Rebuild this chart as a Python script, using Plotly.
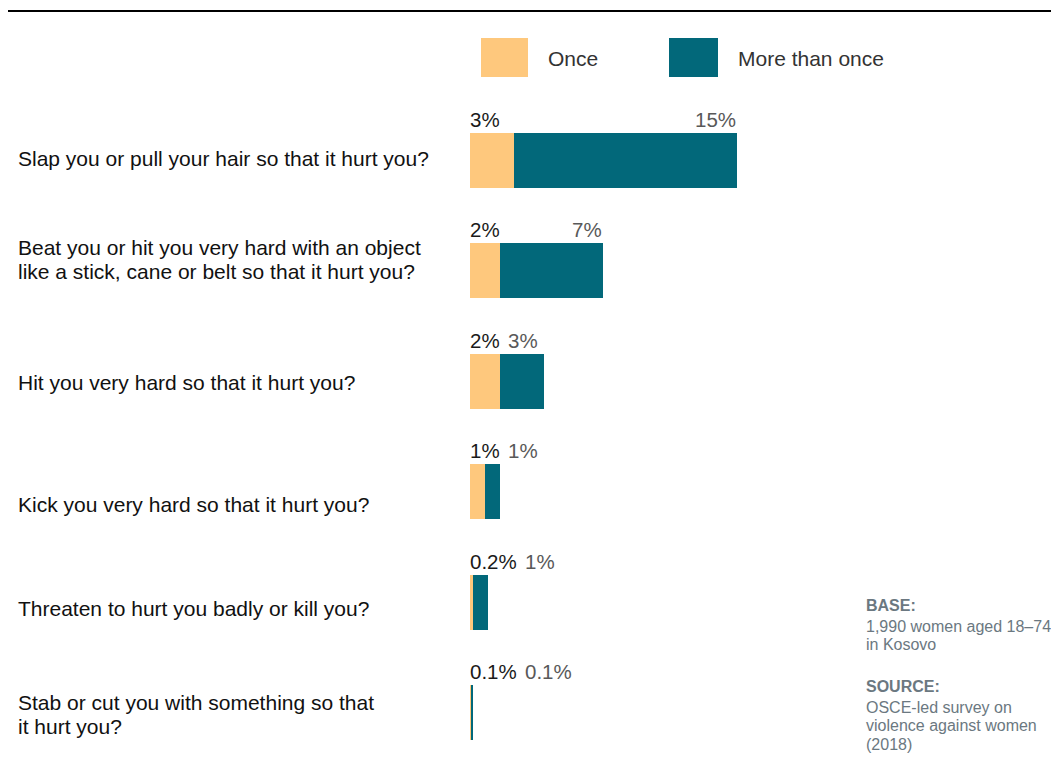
import plotly.graph_objects as go

categories = [
    "Slap you or pull your hair so that it hurt you?",
    "Beat you or hit you very hard with an object<br>like a stick, cane or belt so that it hurt you?",
    "Hit you very hard so that it hurt you?",
    "Kick you very hard so that it hurt you?",
    "Threaten to hurt you badly or kill you?",
    "Stab or cut you with something so that<br>it hurt you?",
]
once = [3, 2, 2, 1, 0.2, 0.1]
more_than_once = [15, 7, 3, 1, 1, 0.1]
series_names = ["Once", "More than once"]
base_title = "BASE:"
base_lines = ["1,990 women aged 18–74", "in Kosovo"]
source_title = "SOURCE:"
source_lines = ["OSCE-led survey on", "violence against women", "(2018)"]

C_ONCE = "#FEC87D"
C_MORE = "#02687A"
W, H = 1051, 780
ML, MR, MT, MB = 0, 0, 105, 12
PLOT_H = H - MT - MB


def px_x(px):
    return px / W


def px_y(py):
    return (H - MB - py) / PLOT_H


X0_PX, X1_PX = 470, 850
PX_PER_UNIT = 14.83
XMAX = (X1_PX - X0_PX) / PX_PER_UNIT

FONT = "Liberation Sans, Arial, sans-serif"
LBL_SIZE = 20.5
CAT_SIZE = 21
LINE_GAP = 24  # px between lines of a category label


def text_w(s, size=LBL_SIZE):
    w = 0
    for ch in s:
        if ch.isdigit():
            w += 0.556
        elif ch == "%":
            w += 0.889
        elif ch == ".":
            w += 0.278
        else:
            w += 0.5
    return w * size


def fmt(v):
    return f"{v:g}%"


ypos = list(range(len(categories)))

fig = go.Figure()
fig.add_trace(go.Bar(y=ypos, x=once, orientation="h", name=series_names[0],
                     marker=dict(color=C_ONCE, line=dict(width=0)), width=0.5,
                     showlegend=False, hoverinfo="x"))
fig.add_trace(go.Bar(y=ypos, x=more_than_once, orientation="h", name=series_names[1],
                     marker=dict(color=C_MORE, line=dict(width=0)), width=0.5,
                     showlegend=False, hoverinfo="x"))

annotations = []
label_offset = [-2, -11, 1, 13, 6, 2]  # px, downwards
for i, cat in enumerate(categories):
    lines = cat.split("<br>")
    n = len(lines)
    for k, line in enumerate(lines):
        dy = label_offset[i] + (k - (n - 1) / 2) * LINE_GAP
        annotations.append(dict(x=px_x(16), xref="paper", y=i, yref="y", text=line,
                                xanchor="left", yanchor="middle", align="left",
                                showarrow=False, yshift=-dy,
                                font=dict(family=FONT, size=CAT_SIZE, color="#111111")))
    o_txt = fmt(once[i])
    m_txt = fmt(more_than_once[i])
    annotations.append(dict(x=0, xref="x", y=i - 0.25, yref="y", text=o_txt,
                            xanchor="left", yanchor="bottom", showarrow=False,
                            xshift=-2, yshift=0,
                            font=dict(family=FONT, size=LBL_SIZE, color="#1a1a1a")))
    total = once[i] + more_than_once[i]
    total_px = total * PX_PER_UNIT
    needed = text_w(o_txt) + 20 + text_w(m_txt)
    if total_px >= needed:
        annotations.append(dict(x=total, xref="x", y=i - 0.25, yref="y", text=m_txt,
                                xanchor="right", yanchor="bottom", showarrow=False,
                                xshift=1, yshift=0,
                                font=dict(family=FONT, size=LBL_SIZE, color="#595959")))
    else:
        annotations.append(dict(x=0, xref="x", y=i - 0.25, yref="y", text=m_txt,
                                xanchor="left", yanchor="bottom", showarrow=False,
                                xshift=text_w(o_txt) + 6, yshift=0,
                                font=dict(family=FONT, size=LBL_SIZE, color="#595959")))

# top rule and legend
shapes = [
    dict(type="line", xref="paper", yref="paper", x0=px_x(8), x1=px_x(1051),
         y0=px_y(11), y1=px_y(11), line=dict(color="#000000", width=2)),
    dict(type="rect", xref="paper", yref="paper", x0=px_x(481), x1=px_x(528),
         y0=px_y(77), y1=px_y(38), fillcolor=C_ONCE, line=dict(width=0)),
    dict(type="rect", xref="paper", yref="paper", x0=px_x(669), x1=px_x(718),
         y0=px_y(77), y1=px_y(38), fillcolor=C_MORE, line=dict(width=0)),
]
annotations.append(dict(x=px_x(546), xref="paper", y=px_y(58), yref="paper",
                        text=series_names[0], xanchor="left", yanchor="middle",
                        showarrow=False, font=dict(family=FONT, size=21, color="#333333")))
annotations.append(dict(x=px_x(736), xref="paper", y=px_y(58), yref="paper",
                        text=series_names[1], xanchor="left", yanchor="middle",
                        showarrow=False, font=dict(family=FONT, size=21, color="#333333")))

NOTE_C = "#6B7881"
NOTE_SIZE = 16


def note(text, py, bold=False):
    annotations.append(dict(x=px_x(864), xref="paper", y=px_y(py), yref="paper",
                            text=f"<b>{text}</b>" if bold else text,
                            xanchor="left", yanchor="middle", align="left",
                            showarrow=False,
                            font=dict(family=FONT, size=NOTE_SIZE, color=NOTE_C)))


note(base_title, 605, bold=True)
for k, t in enumerate(base_lines):
    note(t, 626 + 18.5 * k)
note(source_title, 686, bold=True)
for k, t in enumerate(source_lines):
    note(t, 707 + 18.5 * k)

fig.update_layout(
    width=W, height=H,
    margin=dict(l=ML, r=MR, t=MT, b=MB, pad=0),
    barmode="stack",
    plot_bgcolor="white", paper_bgcolor="white",
    xaxis=dict(domain=[px_x(X0_PX), px_x(X1_PX)], range=[0, XMAX], visible=False,
               fixedrange=True),
    yaxis=dict(range=[len(categories) - 0.5, -0.5], visible=False, fixedrange=True),
    annotations=annotations,
    shapes=shapes,
    font=dict(family=FONT),
)

fig.write_html("out.html", config={"displayModeBar": False},
               post_script="document.body.style.margin='0';document.body.style.overflow='hidden';")
